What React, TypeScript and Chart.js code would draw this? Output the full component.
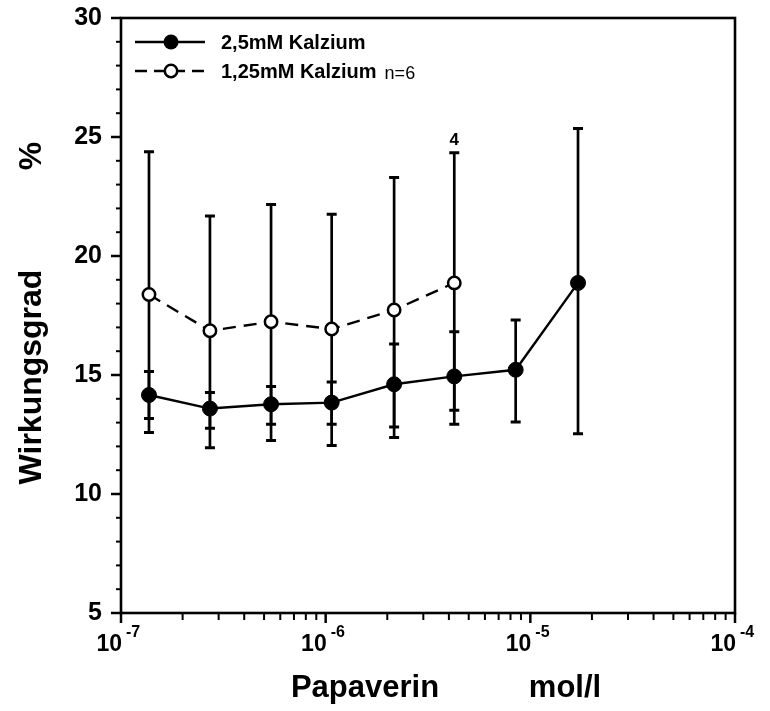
import React, { useEffect, useRef } from "react";
import { Chart, registerables } from "chart.js";

Chart.register(...registerables);

// ---- data ----
const papaverinDoses = [1.37e-7, 2.72e-7, 5.41e-7, 1.07e-6, 2.16e-6, 4.25e-6, 8.48e-6, 1.71e-5];

const kalzium25Mean = [14.16, 13.59, 13.77, 13.84, 14.61, 14.94, 15.22, 18.87];
const kalzium25Upper = [15.15, 14.26, 14.52, 14.71, 16.3, 16.82, 17.31, 25.36];
const kalzium25Lower = [13.17, 12.76, 12.93, 12.93, 12.81, 13.52, 13.02, 12.53];

const kalzium125Mean = [18.38, 16.86, 17.24, 16.93, 17.73, 18.87];
const kalzium125Upper = [24.38, 21.68, 22.16, 21.75, 23.3, 24.34];
const kalzium125Lower = [12.58, 11.94, 12.25, 12.04, 12.37, 12.93];

const seriesNames = ["2,5mM Kalzium", "1,25mM Kalzium"];
const sampleNote = "n=6";
const pointNote = "4";
const pointNoteIndex = 5;

const yMin = 5;
const yMax = 30;
const yStep = 5;
const yMinorStep = 1;
const xMin = 1e-7;
const xMax = 1e-4;
const xTickExponents = [-7, -6, -5, -4];
const xTitleParts = ["Papaverin", "mol/l"];
const yTitleParts = ["Wirkungsgrad", "%"];

const FONT = "'Liberation Sans', Arial, Helvetica, sans-serif";

const decorPlugin = {
  id: "decor",
  beforeDatasetsDraw(chart: any) {
    const { ctx, chartArea: a, scales } = chart;
    const xs = scales.x;
    const ys = scales.y;
    ctx.save();
    ctx.strokeStyle = "#000";
    ctx.lineCap = "butt";
    // frame
    ctx.lineWidth = 2.6;
    ctx.strokeRect(a.left, a.top, a.right - a.left, a.bottom - a.top);

    // y ticks
    for (let v = yMin; v <= yMax + 1e-9; v += yMinorStep) {
      const py = ys.getPixelForValue(v);
      const major = Math.abs(v / yStep - Math.round(v / yStep)) < 1e-6;
      ctx.lineWidth = major ? 2.5 : 2;
      ctx.beginPath();
      ctx.moveTo(a.left - (major ? 10 : 5), py);
      ctx.lineTo(a.left, py);
      ctx.stroke();
    }
    // x ticks (log)
    for (let e = -7; e < -4; e++) {
      for (let m = 1; m <= 9; m++) {
        const v = m * Math.pow(10, e);
        const px = xs.getPixelForValue(v);
        const major = m === 1;
        ctx.lineWidth = major ? 2.5 : 2;
        ctx.beginPath();
        ctx.moveTo(px, a.bottom);
        ctx.lineTo(px, a.bottom + (major ? 10 : 7));
        ctx.stroke();
      }
    }
    {
      const px = xs.getPixelForValue(xMax);
      ctx.lineWidth = 2.5;
      ctx.beginPath();
      ctx.moveTo(px, a.bottom);
      ctx.lineTo(px, a.bottom + 10);
      ctx.stroke();
    }

    // error bars
    const drawErr = (means: number[], up: number[], lo: number[]) => {
      for (let i = 0; i < means.length; i++) {
        const px = xs.getPixelForValue(papaverinDoses[i]);
        const pu = ys.getPixelForValue(up[i]);
        const pl = ys.getPixelForValue(lo[i]);
        ctx.lineWidth = 2.7;
        ctx.beginPath();
        ctx.moveTo(px, pu);
        ctx.lineTo(px, pl);
        ctx.stroke();
        ctx.lineWidth = 3;
        ctx.beginPath();
        ctx.moveTo(px - 5, pu);
        ctx.lineTo(px + 5, pu);
        ctx.moveTo(px - 5, pl);
        ctx.lineTo(px + 5, pl);
        ctx.stroke();
      }
    };
    drawErr(kalzium125Mean, kalzium125Upper, kalzium125Lower);
    drawErr(kalzium25Mean, kalzium25Upper, kalzium25Lower);
    ctx.restore();
  },
  afterDraw(chart: any) {
    const { ctx, chartArea: a, scales } = chart;
    const xs = scales.x;
    const ys = scales.y;
    ctx.save();
    ctx.fillStyle = "#000";
    ctx.strokeStyle = "#000";

    // x tick labels 10^n
    for (const e of xTickExponents) {
      const px = xs.getPixelForValue(Math.pow(10, e));
      ctx.font = `bold 23px ${FONT}`;
      ctx.textAlign = "right";
      ctx.textBaseline = "alphabetic";
      ctx.fillText("10", px + 1, a.bottom + 38);
      ctx.font = `bold 16px ${FONT}`;
      ctx.textAlign = "left";
      ctx.fillText(String(e), px + 5, a.bottom + 24);
    }

    // axis titles
    ctx.font = `bold 31px ${FONT}`;
    ctx.textAlign = "center";
    ctx.textBaseline = "alphabetic";
    ctx.fillText(xTitleParts[0], 365, a.bottom + 84);
    ctx.fillText(xTitleParts[1], 565, a.bottom + 84);

    ctx.save();
    ctx.font = `bold 32px ${FONT}`;
    ctx.translate(41, 0);
    ctx.rotate(-Math.PI / 2);
    ctx.fillText(yTitleParts[0], -377, 0);
    ctx.fillText(yTitleParts[1], -156, 0);
    ctx.restore();

    // annotation above the 6th open point's error bar
    {
      const px = xs.getPixelForValue(papaverinDoses[pointNoteIndex]);
      const py = ys.getPixelForValue(kalzium125Upper[pointNoteIndex]);
      ctx.font = `bold 17px ${FONT}`;
      ctx.textAlign = "center";
      ctx.textBaseline = "alphabetic";
      ctx.fillText(pointNote, px, py - 8);
    }

    // legend
    const lx0 = a.left + 14;
    const lx1 = a.left + 84;
    const lxc = (lx0 + lx1) / 2 + 1;
    const row1 = a.top + 24;
    const row2 = a.top + 53;
    ctx.lineWidth = 2.4;
    ctx.setLineDash([]);
    ctx.beginPath();
    ctx.moveTo(lx0, row1);
    ctx.lineTo(lx1, row1);
    ctx.stroke();
    ctx.beginPath();
    ctx.arc(lxc, row1, 7.5, 0, Math.PI * 2);
    ctx.fill();

    ctx.setLineDash([12, 7]);
    ctx.beginPath();
    ctx.moveTo(lx0, row2);
    ctx.lineTo(lx1, row2);
    ctx.stroke();
    ctx.setLineDash([]);
    ctx.fillStyle = "#fff";
    ctx.lineWidth = 2.5;
    ctx.beginPath();
    ctx.arc(lxc, row2, 6.2, 0, Math.PI * 2);
    ctx.fill();
    ctx.stroke();

    ctx.fillStyle = "#000";
    ctx.textAlign = "left";
    ctx.textBaseline = "middle";
    ctx.font = `bold 20px ${FONT}`;
    ctx.fillText(seriesNames[0], a.left + 100, row1 + 1);
    ctx.fillText(seriesNames[1], a.left + 100, row2 + 1);
    const w = ctx.measureText(seriesNames[1]).width;
    ctx.font = `18px ${FONT}`;
    ctx.fillText(sampleNote, a.left + 100 + w + 8, row2 + 3);

    ctx.restore();
  },
};

export default function App() {
  const ref = useRef<HTMLCanvasElement | null>(null);
  useEffect(() => {
    if (!ref.current) return;
    const chart = new Chart(ref.current, {
      type: "line",
      data: {
        datasets: [
          {
            label: seriesNames[0],
            data: papaverinDoses.map((x, i) => ({ x, y: kalzium25Mean[i] })),
            borderColor: "#000",
            borderWidth: 2.4,
            pointRadius: 7.5,
            pointBackgroundColor: "#000",
            pointBorderColor: "#000",
            pointBorderWidth: 1,
            tension: 0,
            fill: false,
          },
          {
            label: seriesNames[1],
            data: kalzium125Mean.map((y, i) => ({ x: papaverinDoses[i], y })),
            borderColor: "#000",
            borderWidth: 2.4,
            borderDash: [13, 8],
            pointRadius: 6.2,
            pointBackgroundColor: "#fff",
            pointBorderColor: "#000",
            pointBorderWidth: 2.5,
            tension: 0,
            fill: false,
          },
        ],
      },
      options: {
        animation: false,
        responsive: true,
        maintainAspectRatio: false,
        layout: { padding: { top: 18, right: 35, left: 0, bottom: 0 } },
        plugins: { legend: { display: false }, tooltip: { enabled: false } },
        scales: {
          x: {
            type: "logarithmic",
            min: xMin,
            max: xMax,
            ticks: { display: false },
            grid: { display: false, drawTicks: false },
            border: { display: false },
            afterFit: (s: any) => {
              s.height = 98;
              s.paddingLeft = 0;
              s.paddingRight = 0;
            },
          },
          y: {
            type: "linear",
            min: yMin,
            max: yMax,
            ticks: {
              stepSize: yStep,
              color: "#000",
              padding: 19,
              font: { family: FONT, size: 25, weight: "bold" },
            },
            grid: { display: false, drawTicks: false },
            border: { display: false },
            afterFit: (s: any) => {
              s.width = 121;
              s.paddingTop = 0;
              s.paddingBottom = 0;
            },
          },
        },
      } as any,
      plugins: [decorPlugin],
    });
    return () => chart.destroy();
  }, []);
  return (
    <div style={{ position: "fixed", left: 0, top: 0, width: 770, height: 711, background: "#fff" }}>
      <canvas ref={ref} />
    </div>
  );
}
